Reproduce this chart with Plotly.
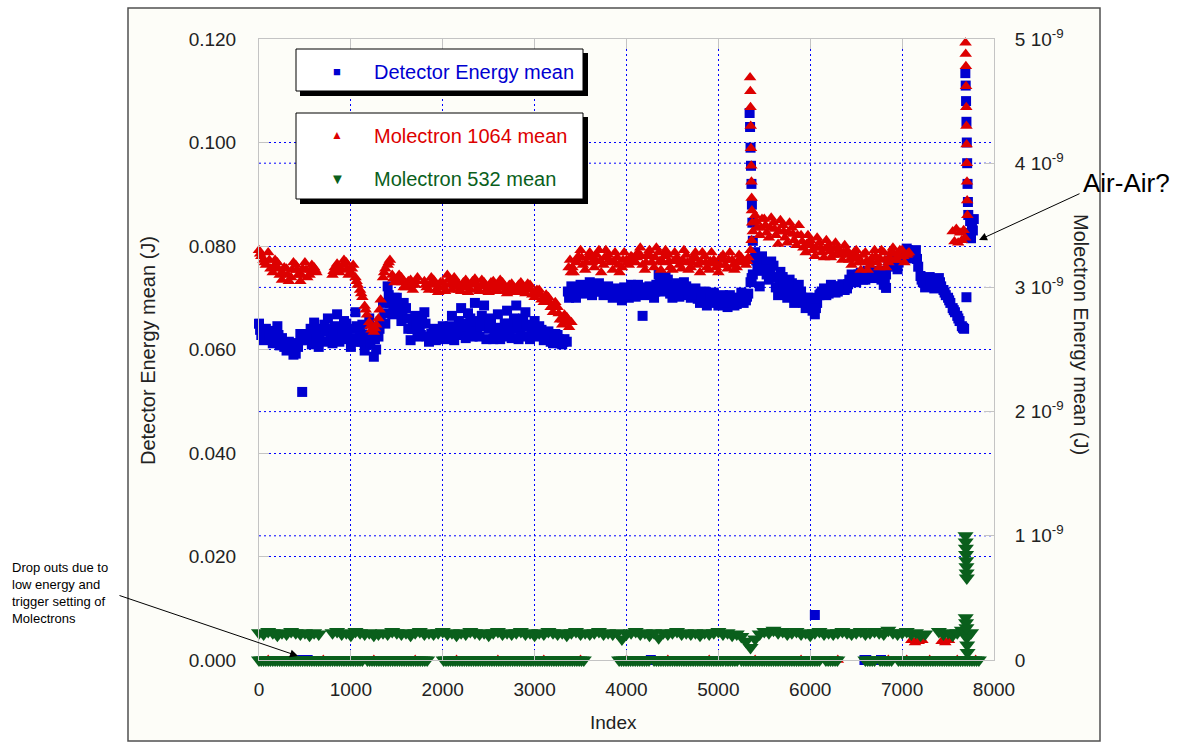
import plotly.graph_objects as go

# ---------------- data ----------------
# Detector Energy mean (J), left axis; three interleaved reading sets (every 50 index units)
blue_idx = list(range(0, 7700, 50))
blue_val = [
    0.0650, 0.0618, 0.0636, 0.0612, 0.0645, 0.0622, 0.0598, 0.0612, 0.0592, 0.0630,
    0.0618, 0.0626, 0.0652, 0.0605, 0.0635, 0.0660, 0.0612, 0.0668, 0.0625, 0.0650,
    0.0605, 0.0672, 0.0630, 0.0598, 0.0660, 0.0586, 0.0625, 0.0690, 0.0722, 0.0668,
    0.0700, 0.0655, 0.0680, 0.0618, 0.0665, 0.0640, 0.0672, 0.0615, 0.0640, 0.0620,
    0.0645, 0.0620, 0.0665, 0.0628, 0.0680, 0.0622, 0.0660, 0.0690, 0.0625, 0.0685,
    0.0640, 0.0620, 0.0668, 0.0625, 0.0675, 0.0622, 0.0685, 0.0630, 0.0672, 0.0620,
    0.0655, 0.0645, 0.0618, 0.0635, 0.0612, 0.0628, 0.0610, 0.0615, 0.0722, 0.0700,
    0.0725, 0.0708, 0.0730, 0.0712, 0.0728, 0.0705, 0.0722, 0.0700, 0.0718, 0.0695,
    0.0712, 0.0725, 0.0702, 0.0720, 0.0705, 0.0722, 0.0700, 0.0745, 0.0712, 0.0735,
    0.0700, 0.0728, 0.0705, 0.0722, 0.0700, 0.0718, 0.0690, 0.0712, 0.0695, 0.0710,
    0.0685, 0.0705, 0.0682, 0.0700, 0.0688, 0.0710, 0.0695, 0.0730, 0.0788, 0.0722,
    0.0768, 0.0735, 0.0762, 0.0705, 0.0740, 0.0700, 0.0728, 0.0705, 0.0712, 0.0680,
    0.0700, 0.0668, 0.0705, 0.0718, 0.0708, 0.0722, 0.0712, 0.0726, 0.0718, 0.0745,
    0.0730, 0.0748, 0.0735, 0.0750, 0.0738, 0.0752, 0.0725, 0.0760, 0.0778, 0.0755,
    0.0785, 0.0795, 0.0776, 0.0792, 0.0742, 0.0720, 0.0740, 0.0718, 0.0738, 0.0715,
    0.0700, 0.0680, 0.0665, 0.0645,
]
blue_idx_b = list(range(25, 7700, 50))
blue_val_b = [
    0.0628, 0.0640, 0.0620, 0.0630, 0.0608, 0.0605, 0.0615, 0.0590, 0.0605, 0.0622,
    0.0630, 0.0610, 0.0625, 0.0640, 0.0615, 0.0630, 0.0645, 0.0615, 0.0655, 0.0620,
    0.0640, 0.0615, 0.0648, 0.0612, 0.0625, 0.0600, 0.0655, 0.0650, 0.0690, 0.0700,
    0.0672, 0.0690, 0.0640, 0.0655, 0.0625, 0.0660, 0.0625, 0.0630, 0.0618, 0.0638,
    0.0630, 0.0645, 0.0618, 0.0655, 0.0635, 0.0670, 0.0625, 0.0640, 0.0665, 0.0620,
    0.0660, 0.0640, 0.0620, 0.0650, 0.0628, 0.0660, 0.0620, 0.0660, 0.0625, 0.0645,
    0.0625, 0.0638, 0.0625, 0.0615, 0.0630, 0.0612, 0.0620, 0.0700, 0.0712, 0.0720,
    0.0715, 0.0720, 0.0705, 0.0725, 0.0712, 0.0718, 0.0708, 0.0715, 0.0702, 0.0720,
    0.0700, 0.0712, 0.0725, 0.0710, 0.0715, 0.0708, 0.0725, 0.0718, 0.0740, 0.0708,
    0.0715, 0.0702, 0.0730, 0.0708, 0.0712, 0.0698, 0.0708, 0.0685, 0.0705, 0.0690,
    0.0700, 0.0690, 0.0705, 0.0685, 0.0700, 0.0690, 0.0708, 0.0745, 0.0760, 0.0780,
    0.0745, 0.0770, 0.0720, 0.0750, 0.0715, 0.0735, 0.0690, 0.0725, 0.0690, 0.0700,
    0.0675, 0.0690, 0.0712, 0.0705, 0.0725, 0.0710, 0.0722, 0.0715, 0.0735, 0.0738,
    0.0745, 0.0735, 0.0752, 0.0740, 0.0748, 0.0735, 0.0745, 0.0772, 0.0762, 0.0780,
    0.0778, 0.0790, 0.0785, 0.0760, 0.0730, 0.0735, 0.0725, 0.0735, 0.0722, 0.0705,
    0.0690, 0.0672, 0.0655, 0.0640,
]
blue_idx_c = list(range(12, 7700, 50))
blue_val_c = [
    0.0638, 0.0630, 0.0628, 0.0622, 0.0628, 0.0612, 0.0606, 0.0602, 0.0612, 0.0618,
    0.0622, 0.0640, 0.0638, 0.0622, 0.0648, 0.0640, 0.0628, 0.0640, 0.0638, 0.0632,
    0.0622, 0.0645, 0.0615, 0.0628, 0.0610, 0.0620, 0.0640, 0.0670, 0.0705, 0.0685,
    0.0685, 0.0672, 0.0660, 0.0640, 0.0648, 0.0628, 0.0650, 0.0622, 0.0628, 0.0630,
    0.0635, 0.0632, 0.0640, 0.0640, 0.0650, 0.0645, 0.0640, 0.0655, 0.0645, 0.0650,
    0.0648, 0.0630, 0.0642, 0.0638, 0.0650, 0.0640, 0.0652, 0.0645, 0.0648, 0.0632,
    0.0638, 0.0630, 0.0632, 0.0625, 0.0620, 0.0620, 0.0615, 0.0712, 0.0710, 0.0710,
    0.0718, 0.0714, 0.0718, 0.0718, 0.0720, 0.0712, 0.0715, 0.0708, 0.0710, 0.0708,
    0.0706, 0.0718, 0.0714, 0.0715, 0.0712, 0.0715, 0.0712, 0.0730, 0.0725, 0.0720,
    0.0708, 0.0715, 0.0718, 0.0715, 0.0706, 0.0708, 0.0700, 0.0698, 0.0700, 0.0700,
    0.0692, 0.0698, 0.0694, 0.0692, 0.0694, 0.0700, 0.0702, 0.0738, 0.0772, 0.0752,
    0.0755, 0.0752, 0.0740, 0.0728, 0.0728, 0.0718, 0.0710, 0.0715, 0.0700, 0.0690,
    0.0688, 0.0680, 0.0708, 0.0712, 0.0716, 0.0716, 0.0718, 0.0720, 0.0726, 0.0740,
    0.0738, 0.0742, 0.0744, 0.0745, 0.0742, 0.0744, 0.0735, 0.0766, 0.0770, 0.0768,
    0.0782, 0.0792, 0.0780, 0.0775, 0.0735, 0.0728, 0.0732, 0.0726, 0.0730, 0.0710,
    0.0695, 0.0676, 0.0660, 0.0642,
]
blue_extra_idx = [5340, 5345, 5350, 5355, 5360, 5365, 5370, 5375, 5380,
                  7688, 7692, 7696, 7700, 7704, 7708, 7712, 7716,
                  7720, 7730, 7740, 7750, 7760, 7770, 7780,
                  470, 4175, 6050, 6825, 7700,
                  470, 530, 4265, 6590, 6610, 6770]
blue_extra_val = [0.1057, 0.1030, 0.0990, 0.0955, 0.0920, 0.0880, 0.0845, 0.0810, 0.0775,
                  0.1134, 0.1110, 0.1080, 0.1040, 0.1000, 0.0960, 0.0920, 0.0885,
                  0.0860, 0.0825, 0.0848, 0.0815, 0.0840, 0.0830, 0.0852,
                  0.0518, 0.0665, 0.0087, 0.0719, 0.0701,
                  0.0, 0.0, 0.0, 0.0, 0.0, 0.0]

# Molectron 1064 mean, right axis, in units of 1e-9 J (segment starts, every 50)
red_seg_starts = [0, 800, 1800, 3400]
red_seg_vals = [
    [3.30, 3.22, 3.28, 3.12, 3.20, 3.06, 3.15, 3.08, 3.18, 3.05, 3.20, 3.10, 3.16],
    [3.10, 3.19, 3.14, 3.20, 3.12, 3.08, 2.98, 2.85, 2.72, 2.64, 2.75, 3.08, 3.18,
     3.10, 3.05, 3.08, 3.00, 3.06, 3.02],
    [3.05, 2.98, 3.06, 2.96, 3.04, 3.10, 2.98, 3.05, 2.97, 3.06,
     2.98, 3.07, 2.97, 3.04, 2.96, 3.05, 2.97, 3.04, 2.95, 3.03,
     2.96, 3.04, 2.95, 3.02, 2.92, 2.98, 2.88, 2.92, 2.80, 2.84,
     2.70, 2.76],
    [2.72, 3.20, 3.30, 3.14, 3.28, 3.16, 3.30, 3.18, 3.26, 3.14,
     3.24, 3.16, 3.22, 3.25, 3.20, 3.32, 3.14, 3.30, 3.16, 3.28,
     3.20, 3.26, 3.14, 3.24, 3.15, 3.26, 3.16, 3.28, 3.12, 3.25,
     3.14, 3.22, 3.12, 3.26, 3.15, 3.22, 3.16, 3.24, 3.18, 3.30,
     3.58, 3.42, 3.55, 3.40, 3.52, 3.35, 3.50, 3.36, 3.48, 3.34,
     3.42, 3.28, 3.38, 3.25, 3.36, 3.24, 3.34, 3.26, 3.32, 3.22,
     3.30, 3.18, 3.30, 3.14, 3.28, 3.18, 3.30, 3.16, 3.28, 3.20,
     3.32, 3.22, 3.30, 3.26],
]
# second reading set, offset by 25 index units from the segment starts
red_seg_vals_b = [
    [3.25, 3.18, 3.15, 3.22, 3.10, 3.16, 3.05, 3.20, 3.10, 3.15, 3.08, 3.18, 3.12],
    [3.16, 3.12, 3.22, 3.10, 3.18, 3.02, 2.92, 2.78, 2.66, 2.70, 2.90, 3.15, 3.22,
     3.04, 3.10, 3.00, 3.05, 2.98, 3.08],
    [3.00, 3.08, 2.98, 3.04, 2.97, 3.02, 3.08, 2.98, 3.04, 2.96,
     3.05, 2.99, 3.06, 2.98, 3.04, 2.98, 3.06, 2.97, 3.02, 2.96,
     3.02, 2.97, 3.03, 2.94, 2.98, 2.90, 2.94, 2.84, 2.88, 2.74,
     2.78, 2.68],
    [3.12, 3.25, 3.18, 3.24, 3.20, 3.26, 3.12, 3.30, 3.20, 3.28,
     3.12, 3.28, 3.18, 3.22, 3.28, 3.18, 3.26, 3.20, 3.32, 3.14,
     3.30, 3.16, 3.28, 3.18, 3.30, 3.14, 3.24, 3.18, 3.28, 3.16,
     3.28, 3.16, 3.24, 3.18, 3.28, 3.14, 3.26, 3.20, 3.24, 3.45,
     3.48, 3.55, 3.44, 3.56, 3.42, 3.54, 3.40, 3.52, 3.38, 3.50,
     3.32, 3.42, 3.30, 3.40, 3.28, 3.38, 3.24, 3.36, 3.26, 3.34,
     3.22, 3.28, 3.20, 3.26, 3.14, 3.24, 3.20, 3.30, 3.16, 3.28,
     3.22, 3.30, 3.20, 3.28],
]
# third reading set, offset by 12 index units from the segment starts
red_seg_vals_c = [
    [3.27, 3.20, 3.22, 3.17, 3.15, 3.11, 3.10, 3.14, 3.14, 3.10, 3.14, 3.14, 3.14],
    [3.13, 3.16, 3.18, 3.15, 3.15, 3.05, 2.95, 2.82, 2.69, 2.67, 2.82, 3.12, 3.20,
     3.07, 3.08, 3.04, 3.03, 3.02, 3.05],
    [3.02, 3.03, 3.02, 3.00, 3.00, 3.06, 3.03, 3.01, 3.00, 3.01,
     3.02, 3.03, 3.01, 3.01, 3.00, 3.01, 3.01, 3.00, 2.98, 3.00,
     2.99, 3.00, 2.99, 2.98, 2.95, 2.94, 2.91, 2.88, 2.84, 2.79,
     2.74, 2.72],
    [3.16, 3.22, 3.24, 3.20, 3.24, 3.22, 3.21, 3.24, 3.22, 3.21,
     3.18, 3.22, 3.20, 3.24, 3.24, 3.25, 3.20, 3.25, 3.24, 3.21,
     3.25, 3.21, 3.21, 3.21, 3.22, 3.20, 3.20, 3.23, 3.20, 3.20,
     3.21, 3.19, 3.18, 3.22, 3.22, 3.18, 3.21, 3.22, 3.21, 3.38,
     3.53, 3.48, 3.50, 3.48, 3.47, 3.45, 3.45, 3.44, 3.43, 3.42,
     3.37, 3.35, 3.34, 3.32, 3.32, 3.31, 3.29, 3.31, 3.29, 3.28,
     3.26, 3.23, 3.25, 3.20, 3.21, 3.21, 3.25, 3.23, 3.22, 3.24,
     3.27, 3.26, 3.25, 3.27],
]
red_extra_idx = [3370, 3385, 3395,
                 7550, 7570, 7590, 7610, 7630, 7650, 7670, 7685,
                 5345, 5348, 5350, 5352, 5355, 5358, 5360, 5362, 5365, 5368,
                 7690, 7692, 7694, 7696, 7698, 7700, 7702, 7704, 7706, 7708, 7710,
                 7100, 7140, 7180, 7220, 7430, 7470, 7510,
                 100, 400, 700, 1250, 1700, 2150, 2600, 3100, 3500, 4000,
                 4450, 4900, 5400, 5900, 6300, 6850, 7050, 7300, 7600, 7800]
red_extra_val = [3.16, 3.22, 3.12,
                 3.45, 3.37, 3.47, 3.36, 3.44, 3.38, 3.46, 3.40,
                 4.69, 4.58, 4.45, 4.30, 4.12, 3.98, 3.85, 3.72, 3.62, 3.52,
                 4.97, 4.88, 4.78, 4.62, 4.45, 4.30, 4.15, 4.00, 3.85, 3.70, 3.58,
                 0.16, 0.14, 0.15, 0.16, 0.15, 0.14, 0.16,
                 0.0, 0.0, 0.0, 0.0, 0.0, 0.0, 0.0, 0.0, 0.0, 0.0,
                 0.0, 0.0, 0.0, 0.0, 0.0, 0.0, 0.0, 0.0, 0.0, 0.0]

# Molectron 532 mean, right axis, in units of 1e-9 J (segment starts, every 50)
green_up_starts = [0, 800, 1350, 7400]
green_up_vals = [
    [0.22, 0.21, 0.23, 0.22, 0.20, 0.22, 0.21, 0.23, 0.22, 0.21, 0.22, 0.20, 0.22, 0.21],
    [0.22, 0.23, 0.21, 0.22, 0.20, 0.23, 0.22, 0.21, 0.22, 0.20, 0.21],
    [0.22, 0.21, 0.23, 0.22, 0.21, 0.22, 0.20, 0.22, 0.23, 0.21,
     0.22, 0.21, 0.22, 0.23, 0.21, 0.22, 0.20, 0.22, 0.21, 0.23,
     0.22, 0.21, 0.22, 0.20, 0.22, 0.23, 0.21, 0.22, 0.21, 0.22,
     0.23, 0.21, 0.22, 0.20, 0.22, 0.21, 0.23, 0.22, 0.21, 0.22,
     0.20, 0.22, 0.23, 0.21, 0.22, 0.21, 0.22, 0.23, 0.21, 0.22,
     0.21, 0.22, 0.17, 0.21, 0.22, 0.23, 0.21, 0.22, 0.20, 0.22,
     0.18, 0.22, 0.21, 0.22, 0.23, 0.21, 0.22, 0.21, 0.22, 0.20,
     0.22, 0.21, 0.22, 0.23, 0.21, 0.22, 0.20, 0.21, 0.19, 0.15,
     0.10, 0.17, 0.21, 0.23, 0.22, 0.24, 0.22, 0.23, 0.21, 0.22,
     0.23, 0.21, 0.22, 0.20, 0.22, 0.23, 0.21, 0.22, 0.21, 0.22,
     0.23, 0.22, 0.21, 0.22, 0.23, 0.21, 0.22, 0.23, 0.22, 0.21,
     0.24, 0.22, 0.21, 0.22, 0.23, 0.21, 0.22, 0.20, 0.21],
    [0.23, 0.21, 0.22, 0.20, 0.22, 0.24, 0.21, 0.22],
]
# index ranges where the 532 reading dropped to zero
green_zero_ranges = [(0, 1130), (1180, 1840), (2010, 3550), (3920, 4260), (4300, 5050),
                     (5080, 5220), (5250, 6120), (6170, 6300), (6600, 6700),
                     (6760, 6900), (6960, 7840)]
green_extra_idx = [7690, 7692, 7694, 7696, 7698, 7700, 7702, 7704,
                   7692, 7696, 7700, 7704, 7708, 7712]
green_extra_val = [1.00, 0.95, 0.90, 0.85, 0.80, 0.75, 0.70, 0.66,
                   0.34, 0.30, 0.26, 0.18, 0.12, 0.06]

x_ticks = [0, 1000, 2000, 3000, 4000, 5000, 6000, 7000, 8000]
left_ticks = [0.0, 0.02, 0.04, 0.06, 0.08, 0.10, 0.12]
right_ticks = [0, 1, 2, 3, 4, 5]
right_ticktext = ["0", "1 10<sup>-9</sup>", "2 10<sup>-9</sup>", "3 10<sup>-9</sup>",
                  "4 10<sup>-9</sup>", "5 10<sup>-9</sup>"]
LEFT_MAX, RIGHT_MAX = 0.12, 5

# ---------------- assemble series ----------------
STEP = 50
red_x, red_y = [], []
for off, sets in ((0, red_seg_vals), (25, red_seg_vals_b), (12, red_seg_vals_c)):
    for s, vals in zip(red_seg_starts, sets):
        red_x += [s + off + STEP * i for i in range(len(vals))]
        red_y += vals
red_x += red_extra_idx
red_y += red_extra_val

g_x, g_y = [], []
for s, vals in zip(green_up_starts, green_up_vals):
    g_x += [s + STEP * i for i in range(len(vals))]
    g_y += vals
for a, b in green_zero_ranges:
    pts = list(range(a, b + 1, 25))
    g_x += pts
    g_y += [0.0] * len(pts)
g_x += green_extra_idx
g_y += green_extra_val

BLUE = "#0000d0"
RED = "#dd0000"
GREEN = "#0a5f1c"
FONT = "Liberation Sans, Arial, sans-serif"
TXT = "#222222"

fig = go.Figure()
fig.add_trace(go.Scatter(x=blue_idx + blue_idx_b + blue_idx_c + blue_extra_idx,
                         y=blue_val + blue_val_b + blue_val_c + blue_extra_val,
                         mode="markers", name="Detector Energy mean", yaxis="y",
                         marker=dict(symbol="square", size=10, color=BLUE),
                         cliponaxis=False))
fig.add_trace(go.Scatter(x=red_x, y=red_y, mode="markers", name="Molectron 1064 mean",
                         yaxis="y2", marker=dict(symbol="triangle-up", size=11, color=RED),
                         cliponaxis=False))
fig.add_trace(go.Scatter(x=g_x, y=g_y, mode="markers", name="Molectron 532 mean",
                         yaxis="y2", marker=dict(symbol="triangle-down", size=14, color=GREEN),
                         cliponaxis=False))

# plot area in pixels: x 259..994, y 39..660
L, R, T, B = 259, 994, 39, 660
W, H = R - L, B - T


def px(x):
    return (x - L) / W


def py(y):
    return (B - y) / H


GRID = "#0000ff"
DASH = "2px,3px"
AXLINE = "#c4c4c4"

fig.update_layout(
    width=1183, height=744, autosize=False,
    margin=dict(l=L, r=1183 - R, t=T, b=744 - B, pad=0),
    paper_bgcolor="white", plot_bgcolor="#fdfdf8",
    showlegend=False,
    font=dict(family=FONT, size=19, color=TXT),
    xaxis=dict(range=[0, 8000], tickvals=x_ticks, showgrid=True, gridcolor=GRID,
               griddash=DASH, gridwidth=1, zeroline=False, showline=True,
               linecolor=AXLINE, linewidth=1, mirror="ticks", ticks="inside",
               ticklen=10, tickcolor=AXLINE, ticklabelstandoff=12,
               tickfont=dict(size=19, color=TXT, family=FONT)),
    yaxis=dict(range=[0, LEFT_MAX], tickvals=left_ticks, tickformat=".3f", showgrid=True,
               gridcolor=GRID, griddash=DASH, gridwidth=1, zeroline=False,
               showline=True, linecolor=AXLINE, linewidth=1, ticks="inside",
               ticklen=10, tickcolor=AXLINE, ticklabelstandoff=18,
               tickfont=dict(size=19, color=TXT, family=FONT)),
    yaxis2=dict(range=[0, RIGHT_MAX], tickvals=right_ticks, ticktext=right_ticktext,
                overlaying="y", side="right", showgrid=False, zeroline=False,
                showline=True, linecolor=AXLINE, linewidth=1, ticks="inside",
                ticklen=10, tickcolor=AXLINE, ticklabelstandoff=16,
                tickfont=dict(size=19, color=TXT, family=FONT)),
)

shapes = [
    # outer frame
    dict(type="rect", xref="paper", yref="paper", x0=px(128), x1=px(1100),
         y0=py(741), y1=py(8), line=dict(color="#505050", width=1.5),
         fillcolor="#fdfdf8", layer="below"),
]
# right-axis grid lines (blue dotted), placed on the y2 scale at its tick values
for t in right_ticks[1:-1]:
    shapes.append(dict(type="line", xref="paper", yref="y2", x0=0, x1=1, y0=t, y1=t,
                       line=dict(color=GRID, width=1, dash=DASH), layer="below"))
shapes += [
    # legend box 1 (shadow + box)
    dict(type="rect", xref="paper", yref="paper", x0=px(300), x1=px(588),
         y0=py(96), y1=py(53), line=dict(width=0), fillcolor="black"),
    dict(type="rect", xref="paper", yref="paper", x0=px(296), x1=px(583),
         y0=py(91), y1=py(49), line=dict(color="black", width=1), fillcolor="white"),
    # legend box 2 (shadow + box)
    dict(type="rect", xref="paper", yref="paper", x0=px(300), x1=px(588),
         y0=py(204), y1=py(117), line=dict(width=0), fillcolor="black"),
    dict(type="rect", xref="paper", yref="paper", x0=px(296), x1=px(583),
         y0=py(199), y1=py(113), line=dict(color="black", width=1), fillcolor="white"),
]
fig.update_layout(shapes=shapes)

ann = []


def text(x, y, s, size=19, color=TXT, xanchor="center", angle=0, align="center"):
    ann.append(dict(x=px(x), y=py(y), xref="paper", yref="paper", text=s,
                    showarrow=False, xanchor=xanchor, yanchor="middle",
                    textangle=angle, align=align,
                    font=dict(size=size, color=color, family=FONT)))


text(148, 351, "Detector Energy mean (J)", size=20, angle=-90)
text(1081, 334, "Molectron Energy mean (J)", size=20, angle=90)
text(613, 722, "Index")
# legend entries
text(337, 71, "■", size=13, color=BLUE)
text(372, 72, "Detector Energy mean", size=20, color=BLUE, xanchor="left")
text(337, 135, "▲", size=12, color=RED)
text(372, 136, "Molectron 1064 mean", size=20, color=RED, xanchor="left")
text(337, 178, "▼", size=15, color=GREEN)
text(372, 179, "Molectron 532 mean", size=20, color=GREEN, xanchor="left")
# notes
text(1081, 183, "Air-Air?", size=26, color="black", xanchor="left")
text(10, 593, "Drop outs due to<br>low energy and<br>trigger setting of<br>Molectrons",
     size=13, color="black", xanchor="left", align="left")

# arrows
ann.append(dict(x=px(979), y=py(240), xref="paper", yref="paper", text="",
                showarrow=True, ax=1081 - 979, ay=193 - 240, axref="pixel", ayref="pixel",
                arrowhead=2, arrowsize=1.6, arrowwidth=1, arrowcolor="black"))
ann.append(dict(x=px(298), y=py(656), xref="paper", yref="paper", text="",
                showarrow=True, ax=118 - 298, ay=595 - 656, axref="pixel", ayref="pixel",
                arrowhead=2, arrowsize=1.6, arrowwidth=1, arrowcolor="black"))
fig.update_layout(annotations=ann)

fig.write_html("out.html", config={"displayModeBar": False},
               post_script="document.body.style.margin='0px';")
